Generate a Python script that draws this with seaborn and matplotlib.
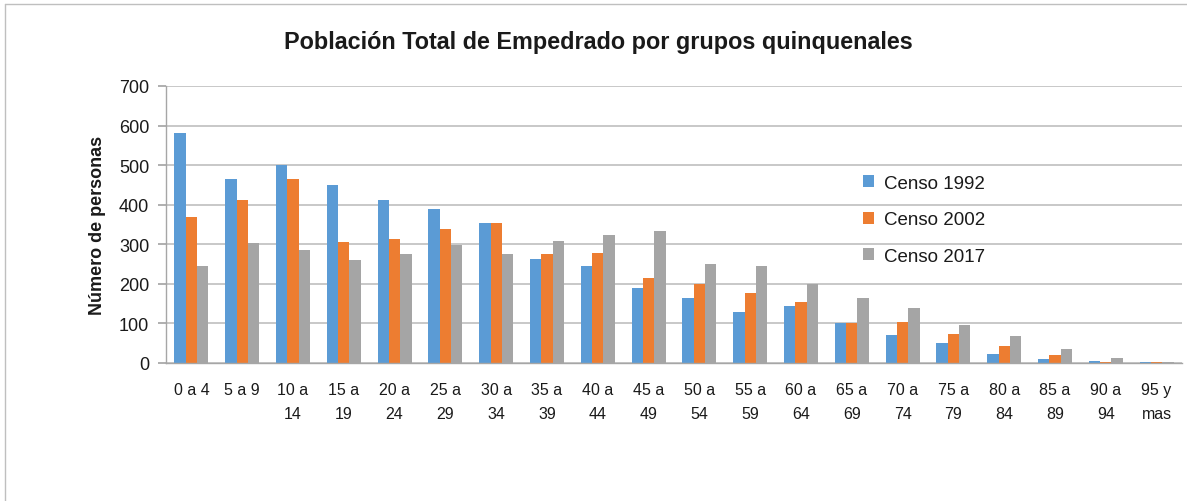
import matplotlib
matplotlib.use("Agg")
import matplotlib.pyplot as plt
import seaborn as sns
import pandas as pd
from matplotlib.patches import Patch
from matplotlib.lines import Line2D

categories = ["0 a 4", "5 a 9", "10 a\n14", "15 a\n19", "20 a\n24", "25 a\n29", "30 a\n34",
              "35 a\n39", "40 a\n44", "45 a\n49", "50 a\n54", "55 a\n59", "60 a\n64", "65 a\n69",
              "70 a\n74", "75 a\n79", "80 a\n84", "85 a\n89", "90 a\n94", "95 y\nmas"]
censo_1992 = [582, 464, 500, 451, 413, 389, 353, 262, 246, 190, 164, 128, 143, 100, 71, 50, 23, 9, 6, 3]
censo_2002 = [368, 413, 464, 306, 314, 338, 353, 276, 279, 214, 200, 178, 155, 100, 104, 74, 42, 20, 3, 3]
censo_2017 = [244, 303, 285, 261, 276, 299, 276, 308, 324, 333, 250, 246, 200, 163, 139, 95, 68, 35, 13, 3]
series = ["Censo 1992", "Censo 2002", "Censo 2017"]
colors = ["#5B9BD5", "#ED7D31", "#A5A5A5"]

rows = []
for s, vals in zip(series, [censo_1992, censo_2002, censo_2017]):
    for c, v in zip(categories, vals):
        rows.append({"grupo": c, "censo": s, "valor": v})
df = pd.DataFrame(rows)

sns.set_theme(style="white")
plt.rcParams["font.family"] = ["Liberation Sans", "DejaVu Sans"]

fig = plt.figure(figsize=(11.87, 5.02), dpi=100)
ax = fig.add_axes([166/1187, 1-364/502, (1182-166)/1187, (364-87)/502])

sns.barplot(data=df, x="grupo", y="valor", hue="censo", order=categories,
            hue_order=series, palette=colors, width=0.67, gap=0, saturation=1,
            edgecolor="none", linewidth=0, ax=ax, legend=False)

ax.set_ylim(0, 700)
ax.set_yticks(range(0, 701, 100))
ax.set_xlim(-0.5, len(categories)-0.5)
ax.yaxis.grid(True, color="#BFBFBF", linewidth=1.2)
ax.set_axisbelow(True)
for sp in ["top", "right"]:
    ax.spines[sp].set_visible(False)
for sp in ["left", "bottom"]:
    ax.spines[sp].set_color("#A6A6A6")
    ax.spines[sp].set_linewidth(1.0)
ax.tick_params(axis="y", which="both", left=True, length=6, color="#A6A6A6",
               labelsize=13, labelcolor="#1a1a1a", pad=6)
ax.tick_params(axis="x", bottom=False, labelsize=11.5, labelcolor="#1a1a1a", pad=8)
ax.set_xlabel("")
ax.set_ylabel("Número de personas", fontsize=13, fontweight="bold", color="#1a1a1a", labelpad=9)
for lbl in ax.get_xticklabels():
    lbl.set_linespacing(1.7)

fig.text(598/1187, 1-42/502, "Población Total de Empedrado por grupos quinquenales",
         ha="center", va="center", fontsize=16.8, fontweight="bold", color="#1a1a1a")

handles = [Patch(facecolor=c, edgecolor="none") for c in colors]
leg = fig.legend(handles, series, loc="upper left", bbox_to_anchor=(863/1187, 1-176/502),
                 frameon=False, fontsize=13.5, handlelength=0.6, handleheight=0.6,
                 handletextpad=0.5, labelspacing=1.03, borderaxespad=0, borderpad=0)
for t in leg.get_texts():
    t.set_color("#1a1a1a")

fig.add_artist(Line2D([5/1187, 5/1187], [0, 1-5/502], color="#BFBFBF", lw=1, transform=fig.transFigure))
fig.add_artist(Line2D([5/1187, 1], [1-5/502, 1-5/502], color="#BFBFBF", lw=1, transform=fig.transFigure))

fig.savefig("out.png", dpi=100)
